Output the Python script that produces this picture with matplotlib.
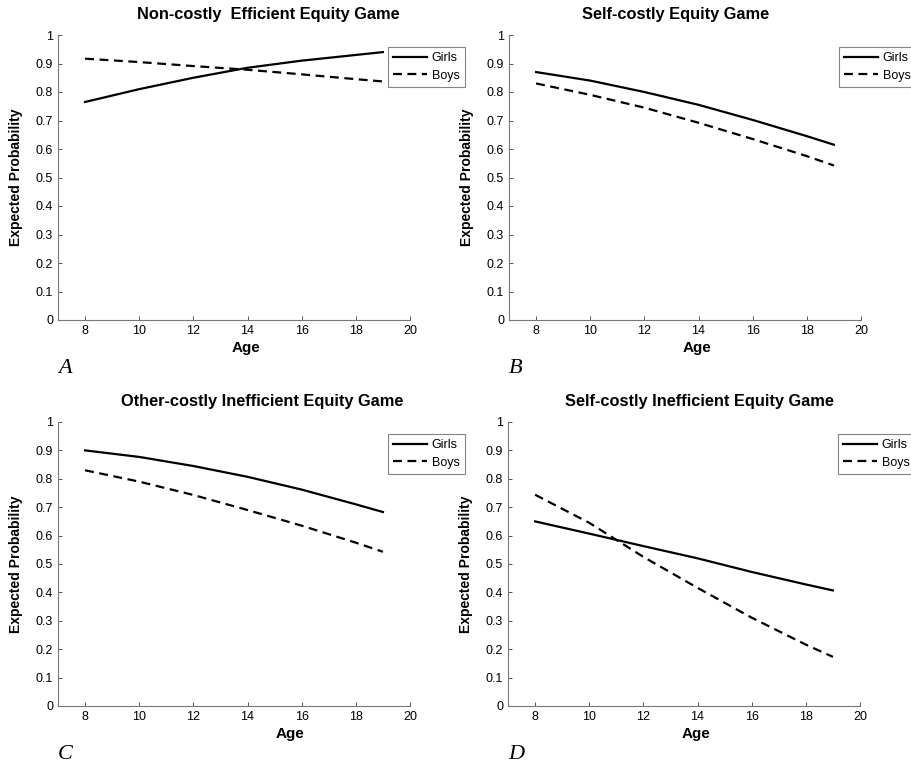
import matplotlib
matplotlib.use("Agg")
import matplotlib.pyplot as plt

AGES = [8, 10, 12, 14, 16, 18, 19]

TITLES = [
    "Non-costly  Efficient Equity Game",
    "Self-costly Equity Game",
    "Other-costly Inefficient Equity Game",
    "Self-costly Inefficient Equity Game",
]
LETTERS = ["A", "B", "C", "D"]

GIRLS_A = [0.765, 0.810, 0.850, 0.885, 0.910, 0.930, 0.940]
BOYS_A = [0.917, 0.905, 0.891, 0.878, 0.862, 0.845, 0.837]
GIRLS_B = [0.870, 0.840, 0.800, 0.755, 0.702, 0.645, 0.615]
BOYS_B = [0.830, 0.790, 0.745, 0.692, 0.635, 0.575, 0.542]
GIRLS_C = [0.900, 0.877, 0.845, 0.807, 0.762, 0.710, 0.683]
BOYS_C = [0.830, 0.790, 0.743, 0.690, 0.635, 0.575, 0.543]
GIRLS_D = [0.650, 0.607, 0.563, 0.520, 0.472, 0.428, 0.407]
BOYS_D = [0.744, 0.645, 0.525, 0.416, 0.311, 0.216, 0.173]

GIRLS = [GIRLS_A, GIRLS_B, GIRLS_C, GIRLS_D]
BOYS = [BOYS_A, BOYS_B, BOYS_C, BOYS_D]

X_TICKS = [8, 10, 12, 14, 16, 18, 20]
Y_TICKS = [0, 0.1, 0.2, 0.3, 0.4, 0.5, 0.6, 0.7, 0.8, 0.9, 1]
Y_TICK_LABELS = ["0", "0.1", "0.2", "0.3", "0.4", "0.5", "0.6", "0.7", "0.8", "0.9", "1"]

W, H = 912, 767
# axes boxes in pixels: left, top, right, bottom
BOXES = [(58, 35, 410, 320), (509, 35, 861, 320),
         (58, 422, 410, 706), (508, 422, 860, 706)]
TITLE_X = [268, 676, 262, 699]
AGE_X = [0.534, 0.534, 0.66, 0.534]

plt.rcParams["font.family"] = ["Liberation Sans", "DejaVu Sans"]

fig = plt.figure(figsize=(W / 100, H / 100), dpi=100)

for i in range(4):
    l, t, r, b = BOXES[i]
    ax = fig.add_axes([l / W, 1 - b / H, (r - l) / W, (b - t) / H])
    ax.plot(AGES, GIRLS[i], "-", color="black", lw=1.6, label="Girls")
    ax.plot(AGES, BOYS[i], "--", color="black", lw=1.6, dashes=(4, 2.5), label="Boys")
    ax.set_xlim(7, 20)
    ax.set_ylim(0, 1)
    ax.set_xticks(X_TICKS)
    ax.set_yticks(Y_TICKS)
    ax.set_yticklabels(Y_TICK_LABELS)
    ax.tick_params(direction="in", length=3, width=0.7, colors="#555555",
                   labelcolor="black", labelsize=9)
    for s in ["top", "right"]:
        ax.spines[s].set_visible(False)
    for s in ["left", "bottom"]:
        ax.spines[s].set_color("#777777")
        ax.spines[s].set_linewidth(0.8)
    ax.set_ylabel("Expected Probability", fontsize=10, fontweight="bold")
    ax.set_xlabel("Age", fontsize=11, fontweight="bold")
    ax.xaxis.set_label_coords(AGE_X[i], -0.075)
    ax.yaxis.set_label_coords(-0.1, 0.5)
    leg = ax.legend(loc="upper left", bbox_to_anchor=(0.9375, 0.958),
                    fontsize=9, frameon=True, fancybox=False,
                    handlelength=2.7, borderaxespad=0, borderpad=0.4,
                    labelspacing=0.45, handletextpad=0.4)
    leg.get_frame().set_edgecolor("#666666")
    leg.get_frame().set_linewidth(0.8)

    fig.text(TITLE_X[i] / W, 1 - (t - 20) / H, TITLES[i], ha="center", va="center",
             fontsize=11.8, fontweight="bold")
    fig.text(l / W, 1 - (b + 53) / H, LETTERS[i], ha="left", va="baseline",
             fontsize=16, style="italic", family="Liberation Serif")

fig.savefig("out.png", dpi=100)
